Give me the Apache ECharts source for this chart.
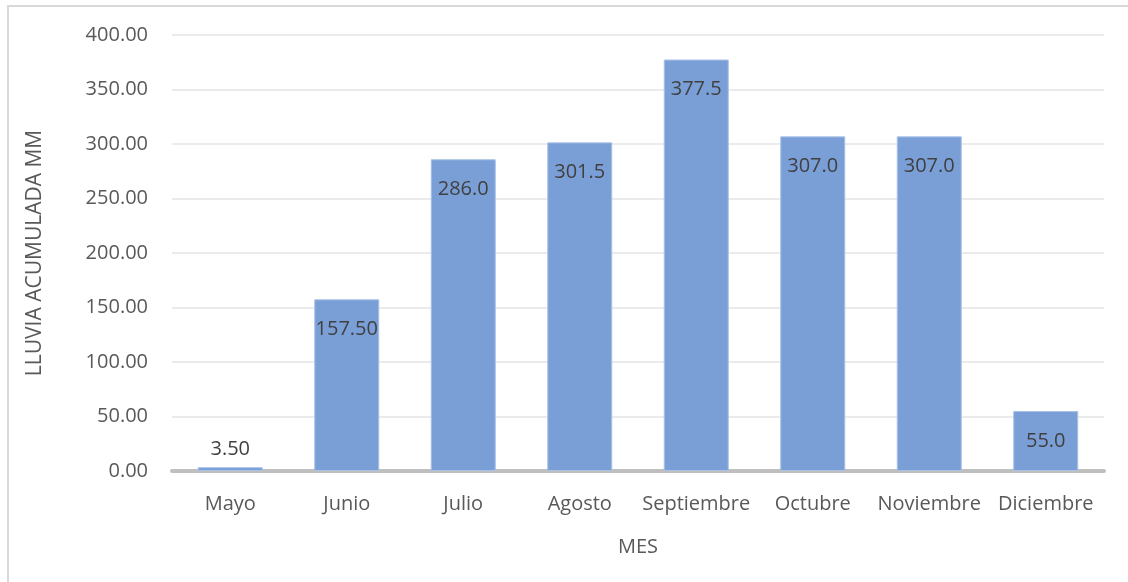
<!DOCTYPE html>
<html>
<head>
<meta charset="utf-8">
<script src="https://cdn.jsdelivr.net/npm/echarts@6/dist/echarts.min.js"></script>
<style>
  html, body { margin: 0; padding: 0; background: #fff; }
  #chart { width: 1128px; height: 582px; }
</style>
</head>
<body>
<div id="chart"></div>
<script>
const months = ['Mayo', 'Junio', 'Julio', 'Agosto', 'Septiembre', 'Octubre', 'Noviembre', 'Diciembre'];
const rain = [3.5, 157.5, 286.0, 301.5, 377.5, 307.0, 307.0, 55.0];
// labels as printed on the original (mixed decimals)
const rainLabels = ['3.50', '157.50', '286.0', '301.5', '377.5', '307.0', '307.0', '55.0'];

const chart = echarts.init(document.getElementById('chart'));

const seriesData = rain.map((v, i) => ({
    value: v,
    label: {
        position: v < 20 ? 'top' : 'insideTop',
        distance: v < 20 ? 8 : 20,
        formatter: rainLabels[i]
    }
}));

const option = {
    animation: false,
    textStyle: { fontFamily: 'Open Sans' },
    graphic: [
        {
            type: 'rect',
            shape: { x: 8, y: 6, width: 1140, height: 600 },
            style: { fill: 'none', stroke: '#d9d9d9', lineWidth: 2 },
            silent: true
        }
    ],
    grid: {
        left: 172,
        right: 24,
        top: 35,
        bottom: 111
    },
    xAxis: {
        type: 'category',
        data: months,
        name: 'MES',
        nameLocation: 'middle',
        nameGap: 66,
        nameTextStyle: { color: '#595959', fontSize: 20 },
        axisTick: { show: false },
        axisLine: { lineStyle: { color: '#bfbfbf', width: 4 } },
        axisLabel: { color: '#595959', fontSize: 20, margin: 23, interval: 0 }
    },
    yAxis: {
        type: 'value',
        min: 0,
        max: 400,
        interval: 50,
        name: 'LLUVIA ACUMULADA MM',
        nameLocation: 'middle',
        nameGap: 126,
        nameTextStyle: { color: '#595959', fontSize: 21 },
        axisLine: { show: false },
        axisTick: { show: false },
        axisLabel: {
            color: '#595959',
            fontSize: 20,
            margin: 24,
            formatter: v => v.toFixed(2)
        },
        splitLine: { lineStyle: { color: '#ebebeb', width: 2 } }
    },
    series: [
        {
            type: 'bar',
            data: seriesData,
            barWidth: 65,
            itemStyle: {
                color: '#7a9fd7',
                borderColor: '#a9c1e6',
                borderWidth: 1
            },
            label: {
                show: true,
                color: '#404040',
                fontSize: 20
            }
        }
    ]
};

chart.setOption(option);
</script>
</body>
</html>
